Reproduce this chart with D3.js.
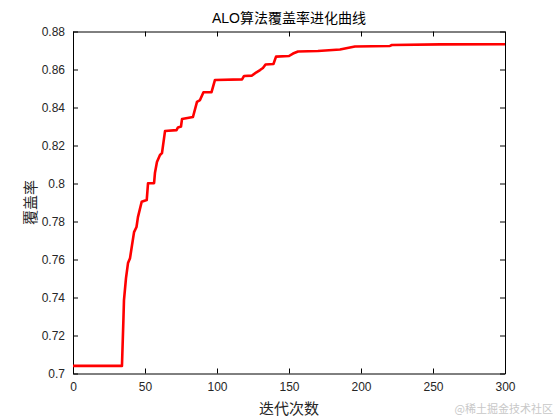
<!DOCTYPE html>
<html>
<head>
<meta charset="utf-8">
<style>
  body { margin: 0; background: #fff; }
  text { font-family: "Liberation Sans", Arial, "Noto Sans CJK SC", sans-serif; }
</style>
</head>
<body>
<svg width="560" height="420"></svg>
<script src="https://d3js.org/d3.v7.min.js"></script>
<script>
// iteration numbers and coverage values
var iters = [0, 34, 35, 35.4, 36.8, 38.2, 39.6, 41, 42.4, 44.1, 45.1, 47.7, 51.2, 52.1, 56.3, 56.9, 58.3, 60.4, 61.8, 63.9,
             71.9, 72.9, 75, 75.7, 83.3, 86.1, 88.2, 90.6, 96.2, 98.6, 117.4, 118.8, 124.3, 127.1, 129.9, 131.9, 133.7,
             139.2, 141, 150, 152.8, 156.3, 170.1, 185.4, 195.8, 220.1, 221.5, 254.9, 300];
var coverage = [0.704, 0.704, 0.7281, 0.7386, 0.7502, 0.7581, 0.7607, 0.7676, 0.7744, 0.7771, 0.7823, 0.7904, 0.7913,
                0.8001, 0.8002, 0.8055, 0.8113, 0.8150, 0.8160, 0.8276, 0.8281, 0.8295, 0.8300, 0.8339, 0.8350, 0.8430,
                0.8439, 0.8480, 0.8481, 0.8545, 0.8548, 0.8566, 0.8568, 0.8584, 0.8597, 0.8608, 0.8626, 0.8629, 0.8668,
                0.8671, 0.8684, 0.8695, 0.8697, 0.8705, 0.8721, 0.8724, 0.8729, 0.8732, 0.8733];
var xTicks = [0, 50, 100, 150, 200, 250, 300];
var yTicks = [0.7, 0.72, 0.74, 0.76, 0.78, 0.8, 0.82, 0.84, 0.86, 0.88];
var titleText = "ALO算法覆盖率进化曲线";
var xLabel = "迭代次数";
var yLabel = "覆盖率";

var svg = d3.select("svg");
var pLeft = 73, pRight = 505, pTop = 31.5, pBottom = 373.5;

var x = d3.scaleLinear().domain([0, 300]).range([pLeft, pRight]);
var y = d3.scaleLinear().domain([0.7, 0.88]).range([pBottom, pTop]);

var fmt = function(d) { return String(+d.toFixed(2)); };

// axes, ticks pointing inward like matlab
function styleAxis(g) {
  g.select(".domain").attr("stroke", "#000").attr("stroke-width", 1);
  g.selectAll(".tick line").attr("stroke", "#000");
  g.selectAll(".tick text").attr("fill", "#262626").style("font-size", "12px")
    .style("font-family", '"Liberation Sans", Arial, sans-serif');
}

svg.append("g")
  .attr("transform", "translate(0," + pBottom + ")")
  .call(d3.axisBottom(x).tickValues(xTicks).tickSize(-5).tickPadding(9).tickSizeOuter(0).tickFormat(d3.format("d")))
  .call(styleAxis);

svg.append("g")
  .attr("transform", "translate(0," + pTop + ")")
  .call(d3.axisTop(x).tickValues(xTicks).tickSize(-5).tickSizeOuter(0).tickFormat(""))
  .call(styleAxis);

svg.append("g")
  .attr("transform", "translate(" + pLeft + ",0)")
  .call(d3.axisLeft(y).tickValues(yTicks).tickSize(-5).tickPadding(8).tickSizeOuter(0).tickFormat(fmt))
  .call(styleAxis);

svg.append("g")
  .attr("transform", "translate(" + pRight + ",0)")
  .call(d3.axisRight(y).tickValues(yTicks).tickSize(-5).tickSizeOuter(0).tickFormat(""))
  .call(styleAxis);

// curve
var pts = iters.map(function(d, i) { return [d, coverage[i]]; });
svg.append("path")
  .datum(pts)
  .attr("fill", "none")
  .attr("stroke", "#ff0000")
  .attr("stroke-width", 2.6)
  .attr("stroke-linejoin", "round")
  .attr("d", d3.line().x(function(d) { return x(d[0]); }).y(function(d) { return y(d[1]); }));

// labels
svg.append("text")
  .attr("x", (pLeft + pRight) / 2).attr("y", 23)
  .attr("text-anchor", "middle").style("font-size", "14px").attr("fill", "#000")
  .text(titleText);

svg.append("text")
  .attr("x", (pLeft + pRight) / 2).attr("y", 414)
  .attr("text-anchor", "middle").style("font-size", "15px").attr("fill", "#262626")
  .style("font-family", '"Noto Sans CJK SC", sans-serif')
  .text(xLabel);

svg.append("text")
  .attr("transform", "translate(36," + (pBottom + pTop) / 2 + ") rotate(-90)")
  .attr("text-anchor", "middle").style("font-size", "15px").attr("fill", "#262626")
  .style("font-family", '"Noto Sans CJK SC", sans-serif')
  .text(yLabel);

svg.append("text")
  .attr("x", 553).attr("y", 413)
  .attr("text-anchor", "end").style("font-size", "11px").attr("fill", "#c8c8c8")
  .style("font-family", '"Noto Sans CJK SC", sans-serif')
  .text("@稀土掘金技术社区");
</script>
</body>
</html>
